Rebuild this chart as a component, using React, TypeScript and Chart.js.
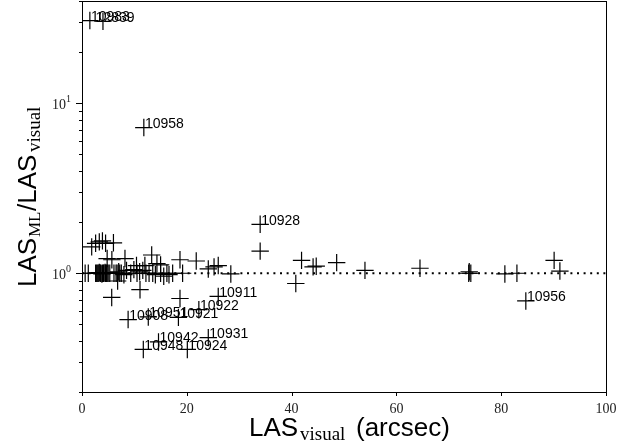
import React, { useEffect, useRef } from "react";
import { Chart, registerables } from "chart.js";

Chart.register(...registerables);

const xValues = [
  1.5, 4, 11.8, 34, 84.7, 26, 22.3, 8.8, 12.65, 18.4, 24.1, 14.6, 11.7, 20.1,
  34, 1.85, 2.6, 3.3, 3.9, 4.5, 6, 4.8, 5.7, 8.2, 13.3, 10.4, 12, 14.3, 15, 18.7, 21.8, 24.1, 25.2, 26, 28.4,
  5.67, 11.07, 6.8, 18.7,
  41.9, 40.8, 44.1, 44.7, 48.6, 54, 64.5, 73.8, 74.2, 73.9, 80.7, 83, 90.1, 91.2,
  0.6, 1.2, 2.6, 2.8, 3.0, 3.2, 3.3, 3.5, 3.6, 3.8, 3.9, 4.1, 4.2, 4.4, 4.5, 4.7, 4.8, 5, 5.3, 6.1, 6.5, 6.7, 7, 7.2, 7.5, 8, 8.5, 9.3, 9.9, 10.5, 11, 11.6, 12.2, 12.8, 13.5, 14, 15, 15.6, 16.2, 16.6, 17.3, 19.2,
];
const yValues = [
  30.7, 30.4, 7.2, 1.94, 0.687, 0.73, 0.61, 0.534, 0.553, 0.55, 0.418, 0.394, 0.356, 0.356,
  1.35, 1.43, 1.5, 1.53, 1.55, 1.5, 1.51, 1.22, 1.2, 1.22, 1.28, 1.11, 1.11, 1.14, 1.12, 1.2, 1.18, 1.06, 1.09, 1.11, 0.99,
  0.72, 0.8, 0.9, 0.71,
  1.19, 0.87, 1.09, 1.1, 1.155, 1.04, 1.07, 1, 1, 1.02, 0.99, 1, 1.19, 1.03,
  1, 1, 1, 1, 1, 1, 1.01, 1, 1, 0.99, 1, 1, 1, 1.01, 1, 1, 1, 1, 1, 1, 1, 1, 1.02, 1, 1, 0.98, 1.04, 1, 1.05, 1, 1.02, 1.04, 1, 1, 1, 0.98, 1, 0.96, 1, 0.98, 1, 1,
];
const pointLabels = [
  "10983", "12839", "10958", "10928", "10956", "10911", "10922", "10908", "10951", "10921", "10931", "10942", "10948", "10924",
];
const labelXValues = [1.7, 2.6, 12, 34.2, 84.9, 26.2, 22.5, 9, 12.85, 18.6, 24.3, 14.8, 11.9, 20.3];
const xTickValues = [0, 20, 40, 60, 80, 100];
const yTickValues = [0.2, 0.3, 0.4, 0.5, 0.6, 0.7, 0.8, 0.9, 1, 2, 3, 4, 5, 6, 7, 8, 9, 10, 20, 30, 40];
const yMajorLabels: Record<string, string> = { "1": "0", "10": "1" };
const refLineX = [0, 100];
const refLineY = [1, 1];

const SANS = '"Liberation Sans", Arial, sans-serif';
const SERIF = '"Liberation Serif", serif';

const drawPlugin = {
  id: "decor",
  afterDatasetsDraw(chart: any) {
    const { ctx, chartArea: a, scales } = chart;
    const { x, y } = scales;
    ctx.save();
    ctx.strokeStyle = "#000";
    ctx.lineWidth = 1;
    ctx.strokeRect(a.left + 0.5, a.top + 0.5, a.right - a.left, a.bottom - a.top);

    ctx.beginPath();
    xTickValues.forEach((v) => {
      const p = Math.round(x.getPixelForValue(v)) + 0.5;
      ctx.moveTo(p, a.bottom);
      ctx.lineTo(p, a.bottom + 4);
    });
    yTickValues.forEach((v) => {
      const p = Math.round(y.getPixelForValue(v)) + 0.5;
      const len = yMajorLabels[String(v)] ? 6 : 3;
      ctx.moveTo(a.left, p);
      ctx.lineTo(a.left - len, p);
    });
    ctx.stroke();

    // y tick labels: base with superscript
    ctx.fillStyle = "#222";
    ctx.textBaseline = "alphabetic";
    Object.keys(yMajorLabels).forEach((k) => {
      const p = y.getPixelForValue(Number(k));
      ctx.textAlign = "left";
      ctx.font = `14px ${SERIF}`;
      ctx.fillText("10", 52, p + 5.5);
      ctx.font = `10px ${SERIF}`;
      ctx.fillText(yMajorLabels[k], 66, p - 1);
    });

    // point labels
    ctx.fillStyle = "#000";
    ctx.font = `14px ${SANS}`;
    ctx.textAlign = "left";
    pointLabels.forEach((t, i) => {
      ctx.fillText(t, x.getPixelForValue(labelXValues[i]), y.getPixelForValue(yValues[i]) + 0.5);
    });

    // x axis title
    ctx.fillStyle = "#000";
    ctx.font = `26px ${SANS}`;
    ctx.fillText("LAS", 249, 436);
    ctx.font = `19px ${SERIF}`;
    ctx.fillText("visual", 300, 440);
    ctx.font = `26px ${SANS}`;
    ctx.fillText("(arcsec)", 356, 436);

    // y axis title
    ctx.translate(36, 287);
    ctx.rotate(-Math.PI / 2);
    ctx.font = `26px ${SANS}`;
    ctx.fillText("LAS", 0, 0);
    ctx.font = `17px ${SERIF}`;
    ctx.fillText("ML", 50, 4);
    ctx.font = `26px ${SANS}`;
    ctx.fillText("/LAS", 76, 0);
    ctx.font = `19px ${SERIF}`;
    ctx.fillText("visual", 135, 4);
    ctx.restore();
  },
};

export default function App() {
  const ref = useRef<HTMLCanvasElement>(null);
  useEffect(() => {
    document.body.style.margin = "0";
    document.body.style.background = "#fff";
    const chart = new Chart(ref.current as HTMLCanvasElement, {
      type: "scatter",
      data: {
        datasets: [
          {
            label: "reference",
            type: "line",
            data: refLineX.map((v, i) => ({ x: v, y: refLineY[i] })),
            borderColor: "#000",
            borderWidth: 2,
            borderDash: [2, 4.6],
            pointRadius: 0,
            fill: false,
          },
          {
            label: "LAS ratio",
            data: xValues.map((v, i) => ({ x: v, y: yValues[i] })),
            pointStyle: "cross",
            pointRadius: 8.7,
            pointBorderWidth: 1.2,
            pointBorderColor: "#000",
            borderColor: "#000",
            backgroundColor: "#000",
            showLine: false,
          },
        ],
      } as any,
      options: {
        animation: false,
        responsive: false,
        devicePixelRatio: 1,
        layout: { autoPadding: false, padding: { top: 1, right: 34, left: 0, bottom: 0 } },
        plugins: { legend: { display: false }, tooltip: { enabled: false } },
        scales: {
          x: {
            type: "linear",
            min: 0,
            max: 100,
            afterFit(s: any) {
              s.height = 55;
            },
            afterBuildTicks(s: any) {
              s.ticks = xTickValues.map((value) => ({ value }));
            },
            grid: { display: false, drawTicks: false },
            border: { display: false },
            ticks: {
              padding: 9,
              maxRotation: 0,
              autoSkip: false,
              color: "#222",
              font: { family: "Liberation Serif", size: 14 },
            },
          },
          y: {
            type: "logarithmic",
            min: 0.2,
            max: 40,
            afterFit(s: any) {
              s.width = 82;
            },
            afterBuildTicks(s: any) {
              s.ticks = yTickValues.map((value) => ({ value }));
            },
            grid: { display: false, drawTicks: false },
            border: { display: false },
            ticks: { display: false, autoSkip: false },
          },
        },
      } as any,
      plugins: [drawPlugin],
    });
    return () => chart.destroy();
  }, []);
  return <canvas ref={ref} width={640} height={447} style={{ display: "block", width: 640, height: 447 }} />;
}
